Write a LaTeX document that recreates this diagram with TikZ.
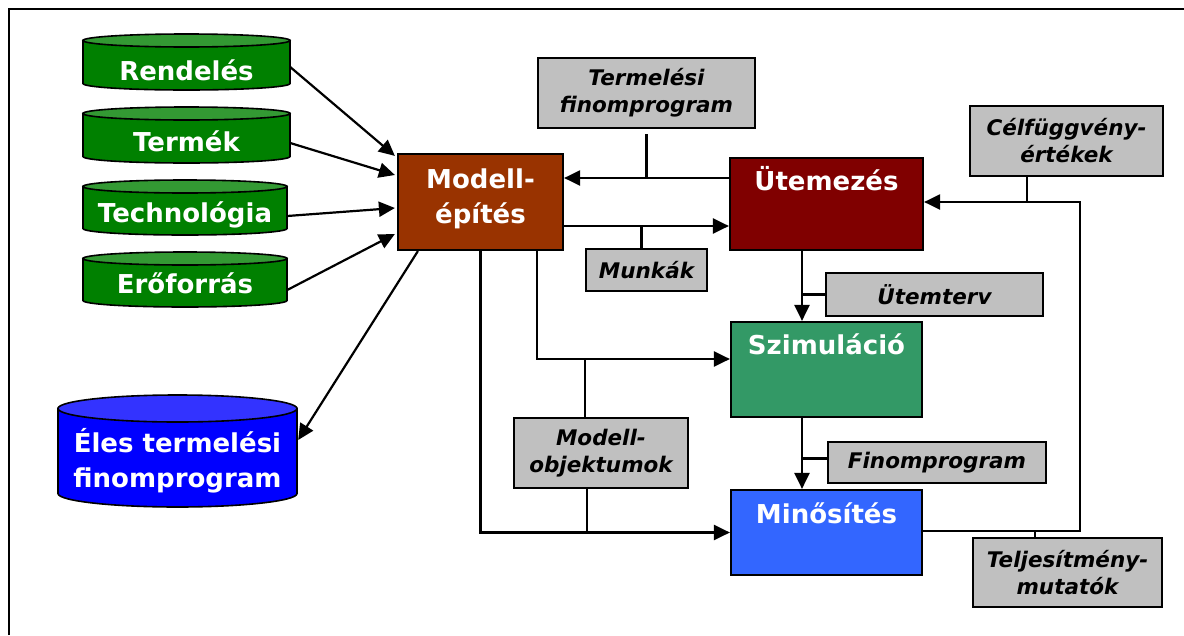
\documentclass[tikz,border=0pt]{standalone}
\usepackage{fontspec}
\setmainfont{DejaVu Sans}
\usetikzlibrary{arrows.meta,calc}
\definecolor{modellc}{HTML}{993300}
\definecolor{utemc}{HTML}{800000}
\definecolor{szimc}{HTML}{339966}
\definecolor{minc}{HTML}{3366FF}
\definecolor{grayc}{HTML}{C0C0C0}
\definecolor{gbody}{HTML}{008000}
\definecolor{gtop}{HTML}{339933}
\definecolor{bbody}{HTML}{0000FF}
\definecolor{btop}{HTML}{3333FF}
\tikzset{
  cylline/.style={draw=black, line width=1.6pt},
  wt/.style={font=\bfseries\fontsize{26}{35}\selectfont, text=white, align=center, inner sep=0pt},
  gt/.style={font=\bfseries\itshape\fontsize{21.5}{27}\selectfont, align=center, inner sep=0pt},
  procbox/.style={draw=black, line width=2.2pt, inner sep=0pt},
  graybox/.style={draw=black, line width=2.2pt, fill=grayc, inner sep=0pt, gt},
  conn/.style={draw=black, line width=2.2pt},
  arr/.style={conn, -{Triangle[length=16pt,width=15pt]}},
}
\begin{document}
\begin{tikzpicture}[x=1pt,y=-1pt]
\useasboundingbox (0,0) rectangle (1184,635);
\fill[white] (0,0) rectangle (1184,635);
% frame
\draw[line width=2.4pt] (9,635) -- (9,9) -- (1184,9);

% cylinders (shapes)
\path[cylline,fill=gbody] (83,40.5) -- (83,83.5) .. controls (83,87.1) and (128.2,90) .. (186.5,90) .. controls (244.8,90) and (290,87.1) .. (290,83.5) -- (290,40.5) -- cycle;
\path[cylline,fill=gtop] (186.5,40.5) ellipse [x radius=103.5, y radius=6.5];
\node[inner sep=0pt, minimum width=207pt, minimum height=56pt] (r) at (186.5,62) {};
\node[wt, anchor=base] (rt) at (186.5,80) {Rendelés};

\path[cylline,fill=gbody] (83,113.5) -- (83,156.5) .. controls (83,160.1) and (128.2,163) .. (186.5,163) .. controls (244.8,163) and (290,160.1) .. (290,156.5) -- (290,113.5) -- cycle;
\path[cylline,fill=gtop] (186.5,113.5) ellipse [x radius=103.5, y radius=6.5];
\node[inner sep=0pt, minimum width=207pt, minimum height=56pt] (t) at (186.5,135) {};
\node[wt, anchor=base] (tt) at (186.5,151) {Termék};

\path[cylline,fill=gbody] (83,186.5) -- (83,228.5) .. controls (83,232.1) and (127.1,235) .. (185,235) .. controls (242.9,235) and (287,232.1) .. (287,228.5) -- (287,186.5) -- cycle;
\path[cylline,fill=gtop] (185,186.5) ellipse [x radius=102, y radius=6.5];
\node[inner sep=0pt, minimum width=204pt, minimum height=55pt] (tc) at (185,207.5) {};
\node[wt, anchor=base] (tct) at (185,222) {Technológia};

\path[cylline,fill=gbody] (83,258.5) -- (83,300.5) .. controls (83,304.1) and (127.1,307) .. (185,307) .. controls (242.9,307) and (287,304.1) .. (287,300.5) -- (287,258.5) -- cycle;
\path[cylline,fill=gtop] (185,258.5) ellipse [x radius=102, y radius=6.5];
\node[inner sep=0pt, minimum width=204pt, minimum height=55pt] (e) at (185,279.5) {};
\node[wt, anchor=base] (et) at (185,293) {Erőforrás};

\path[cylline,fill=bbody] (58,408.5) -- (58,493.5) .. controls (58,500.9) and (111.6,507) .. (177.5,507) .. controls (243.4,507) and (297,500.9) .. (297,493.5) -- (297,408.5) -- cycle;
\path[cylline,fill=btop] (177.5,408.5) ellipse [x radius=119.5, y radius=13.5];
\node[inner sep=0pt, minimum width=239pt, minimum height=112pt] (el) at (177.5,451) {};
\node[wt] (elt) at (177.5,461) {Éles termelési\\finomprogram};

% process boxes
\node[procbox, fill=modellc, minimum width=165pt, minimum height=96pt] (m) at (480.5,202) {};
\node[wt] (mt) at (480.5,198.7) {Modell-\\építés};
\node[procbox, fill=utemc, minimum width=193pt, minimum height=92pt] (u) at (826.5,204) {};
\node[wt, anchor=base] (ut) at (826.5,190) {Ütemezés};
\node[procbox, fill=szimc, minimum width=191pt, minimum height=95pt] (s) at (826.5,369.5) {};
\node[wt, anchor=base] (st) at (826.5,354) {Szimuláció};
\node[procbox, fill=minc, minimum width=191pt, minimum height=85pt] (q) at (826.5,532.5) {};
\node[wt, anchor=base] (qt) at (826.5,523) {Minősítés};

% gray label boxes
\node[graybox, minimum width=217pt, minimum height=70pt] (tf) at (646.5,93) {Termelési\\finomprogram};
\node[graybox, minimum width=121pt, minimum height=42pt] (mk) at (646.5,270) {Munkák};
\node[graybox, minimum width=193pt, minimum height=70pt] (cf) at (1066.5,141) {Célfüggvény-\\értékek};
\node[graybox, minimum width=217pt, minimum height=43pt] (utv) at (934.5,294.5) {Ütemterv};
\node[graybox, minimum width=218pt, minimum height=41pt] (fp) at (937,462.5) {Finomprogram};
\node[graybox, minimum width=174pt, minimum height=70pt] (mo) at (601,453) {Modell-\\objektumok};
\node[graybox, minimum width=189pt, minimum height=69pt] (tm) at (1067.5,572.5) {Teljesítmény-\\mutatók};

% inputs to Modell-építés
\draw[arr] ($(r.east)+(0,5)$) -- ($(m.north west)+(-2,3)$);
\draw[arr] ($(t.east)+(0,8)$) -- ($(m.west)+(-2,-27)$);
\draw[arr] ($(tc.east)+(0,8.5)$) -- ($(m.west)+(-2,6)$);
\draw[arr] ($(e.east)+(0,10.5)$) -- ($(m.west)+(-2,32)$);
\draw[arr] ($(m.south west)+(21,0)$) -- ($(el.east)+(1,-11)$);

% Modell <-> Ütemezés
\draw[arr] ($(u.west)+(0,-26)$) coordinate (a2) -- (a2 -| m.east);
\draw[conn] ($(tf.south)+(0,5)$) coordinate (a2b) -- (a2b |- a2);
\draw[arr] ($(m.east)+(0,24)$) coordinate (a1) -- (a1 -| u.west);
\draw[conn] ($(mk.north)+(-5,0)$) coordinate (a1b) -- (a1b |- a1);

% Ütemezés -> Szimuláció -> Minősítés
\draw[arr] ($(u.south)+(-24.5,0)$) coordinate (a3) -- (a3 |- s.north);
\draw[conn] (utv.west) -- (utv.west -| a3);
\draw[arr] ($(s.south)+(-24.5,0)$) coordinate (a4) -- (a4 |- q.north);
\draw[conn] ($(fp.west)+(0,-4)$) coordinate (a4b) -- (a4b -| a4);

% Modell -> Szimuláció, Minősítés
\coordinate (a5) at ($(s.west)+(0,-10.5)$);
\draw[arr] ($(m.south)+(56.5,0)$) |- (a5);
\draw[conn] ($(mo.north)+(-16,0)$) coordinate (a6) -- (a6 |- a5);
\draw[arr] (m.south) |- (q.west);
\draw[conn] ($(mo.south)+(-14,0)$) coordinate (a7) -- (a7 |- q.west);

% feedback Minősítés -> Ütemezés
\coordinate (a9) at ($(u.east)+(0,-2)$);
\draw[arr] ($(q.east)+(0,-1.5)$) -- ++(157,0) coordinate (fb) |- (a9);
\draw[conn] ($(cf.south)+(-39.5,0)$) coordinate (a8) -- (a8 |- a9);
\draw[conn] ($(tm.north)+(-32.5,0)$) coordinate (a10) -- (a10 |- fb);
\end{tikzpicture}
\end{document}
